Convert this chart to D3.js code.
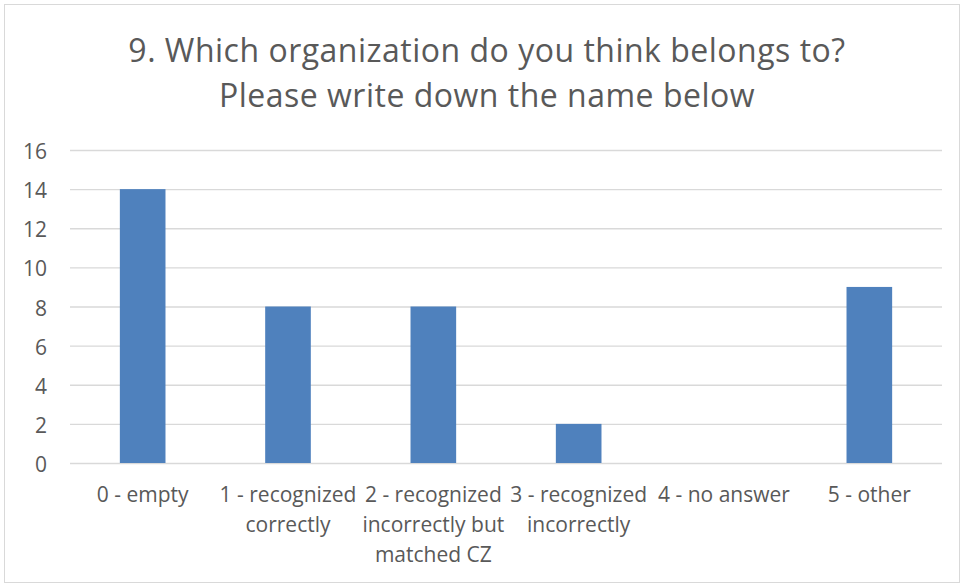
<!DOCTYPE html>
<html><head><meta charset="utf-8">
<script src="https://cdn.jsdelivr.net/npm/d3@7"></script>
<style>body{margin:0;background:#fff;} svg{display:block;}</style>
</head><body>
<svg id="c" width="963" height="584"></svg>
<script>
const categories = ["0 - empty","1 - recognized correctly","2 - recognized incorrectly but matched CZ","3 - recognized incorrectly","4 - no answer","5 - other"];
const categoryLines = [["0 - empty"],["1 - recognized","correctly"],["2 - recognized","incorrectly but","matched CZ"],["3 - recognized","incorrectly"],["4 - no answer"],["5 - other"]];
const values = [14, 8, 8, 2, 0, 9];
const yTicks = [0,2,4,6,8,10,12,14,16];
const titleLines = ["9. Which organization do you think belongs to?","Please write down the name below"];

const svg = d3.select("#c");
const font = "'Open Sans', sans-serif";
svg.append("rect").attr("x",4.5).attr("y",4.5).attr("width",955).attr("height",578)
  .attr("fill","#fff").attr("stroke","#d9d9d9");

const m = {left:70, right:942, top:150, bottom:463};
const x = d3.scaleBand().domain(categories).range([m.left, m.right]).paddingInner(0.686).paddingOuter(0.343);
const y = d3.scaleLinear().domain([0,16]).range([m.bottom, m.top]);

// gridlines
svg.append("g").selectAll("line").data(yTicks).join("line")
  .attr("x1",m.left).attr("x2",m.right)
  .attr("y1",d=>y(d)+0.5).attr("y2",d=>y(d)+0.5)
  .attr("stroke","#d9d9d9").attr("stroke-width",1.3);

// y axis labels
const ya = d3.axisLeft(y).tickValues(yTicks).tickSize(0).tickPadding(0);
const yg = svg.append("g").attr("transform",`translate(${47},0)`).call(ya);
yg.select(".domain").remove();
yg.selectAll("text").attr("font-family",font).attr("font-size",21).attr("fill","#595959")
  .attr("dy",null).attr("y",8.5);

// bars
svg.append("g").selectAll("rect").data(values).join("rect")
  .attr("x",(d,i)=>x(categories[i]))
  .attr("width",x.bandwidth())
  .attr("y",d=>y(d))
  .attr("height",d=>y(0)-y(d))
  .attr("fill","#4f81bd");

// x labels
const xl = svg.append("g");
categoryLines.forEach((lines,i)=>{
  const cx = x(categories[i]) + x.bandwidth()/2;
  const t = xl.append("text").attr("text-anchor","middle").attr("font-family",font)
    .attr("font-size",21).attr("fill","#595959");
  lines.forEach((l,j)=>{
    t.append("tspan").attr("x",cx).attr("y",502+j*30).text(l);
  });
});

// title
titleLines.forEach((l,j)=>{
  svg.append("text").attr("x",487).attr("y",62+j*45).attr("text-anchor","middle")
    .attr("font-family",font).attr("font-size",32).attr("fill","#595959").attr("letter-spacing",0.5).text(l);
});
</script>
</body></html>
